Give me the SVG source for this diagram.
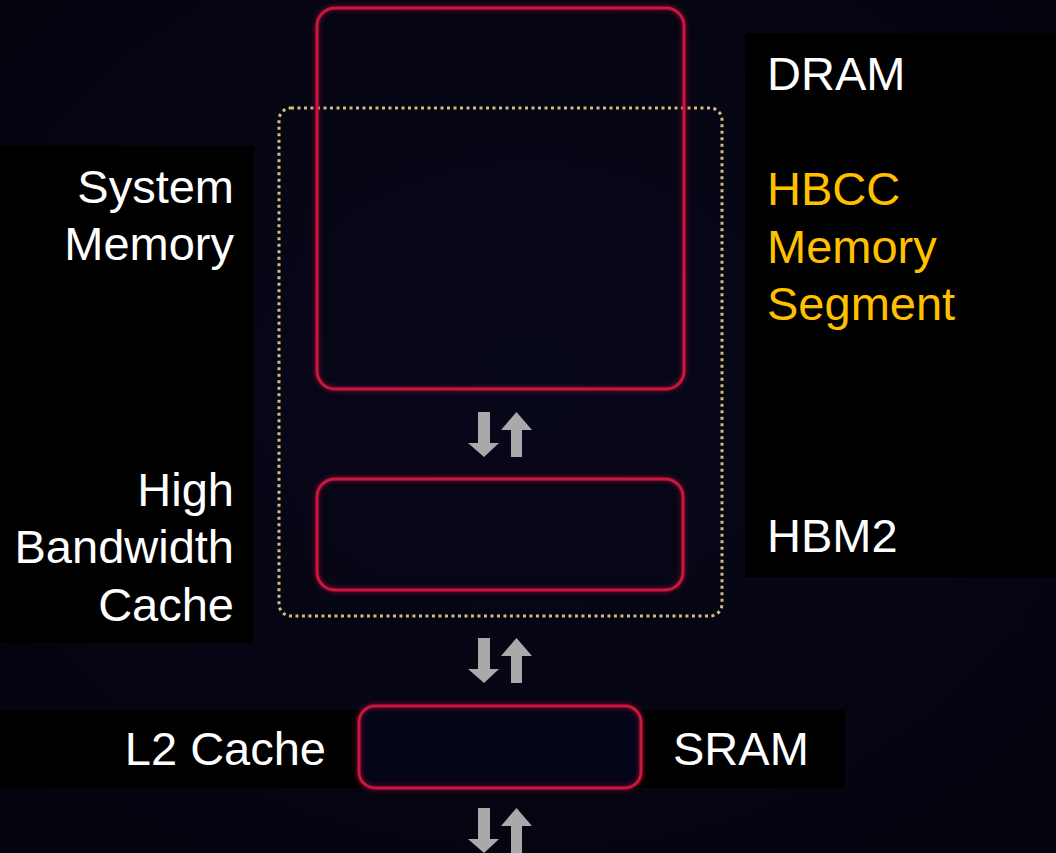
<svg xmlns="http://www.w3.org/2000/svg" width="1056" height="853" viewBox="0 0 1056 853">
<defs>
<radialGradient id="bg" cx="0.5" cy="0.45" r="0.75">
<stop offset="0" stop-color="#07071a"/>
<stop offset="1" stop-color="#04040e"/>
</radialGradient>
<filter id="glow" x="-10%" y="-10%" width="120%" height="120%">
<feGaussianBlur stdDeviation="2"/>
</filter>
<g id="arrowpair">
<polygon points="478,412 490,412 490,443 499,443 484,457 468,443 478,443"/>
<polygon points="516.5,412 532,430 522,430 522,457 511,457 511,430 501,430"/>
</g>
</defs>
<style>
.panel{fill:#000}
.box{fill:none;stroke:#cc1640;stroke-width:3}
.boxglow{fill:none;stroke:#a01030;stroke-width:6;opacity:0.5;filter:url(#glow)}
.dots{fill:none;stroke:#d2bd7a;stroke-width:3;stroke-dasharray:3 3.5;stroke-linecap:butt}
.lbl{font-family:"Liberation Sans",Arial,sans-serif;font-size:47px;fill:#fff}
.orange{fill:#ffc000}
.arrow{fill:#a9a9a9}
</style>
<rect width="1056" height="853" fill="url(#bg)"/>
<!-- label panels -->
<rect class="panel" x="0" y="146" width="254" height="497"/>
<rect class="panel" x="745" y="33" width="311" height="544"/>
<rect class="panel" x="0" y="710" width="845" height="78"/>

<g id="hbcc-segment">
<rect class="dots" x="279" y="108" width="443" height="508" rx="12"/>
</g>
<g id="dram">
<rect class="boxglow" x="317" y="8" width="367" height="381" rx="18"/>
<rect class="box" x="317" y="8" width="367" height="381" rx="18"/>
</g>
<g id="hbm2">
<rect class="boxglow" x="317" y="479" width="366" height="111" rx="18"/>
<rect class="box" x="317" y="479" width="366" height="111" rx="18"/>
</g>
<g id="l2">
<rect x="359" y="706" width="282" height="82" rx="16" fill="#05051a"/>
<rect class="boxglow" x="359" y="706" width="282" height="82" rx="16"/>
<rect class="box" x="359" y="706" width="282" height="82" rx="16"/>
</g>

<g id="connectors" class="arrow">
<use href="#arrowpair"/>
<use href="#arrowpair" y="226"/>
<use href="#arrowpair" y="396"/>
</g>

<g id="labels">
<text class="lbl" x="234" y="203" text-anchor="end">System</text>
<text class="lbl" x="234" y="260" text-anchor="end">Memory</text>
<text class="lbl" x="234" y="506" text-anchor="end">High</text>
<text class="lbl" x="234" y="563" text-anchor="end">Bandwidth</text>
<text class="lbl" x="234" y="621" text-anchor="end">Cache</text>
<text class="lbl" x="767" y="90">DRAM</text>
<text class="lbl orange" x="767" y="205">HBCC</text>
<text class="lbl orange" x="767" y="263">Memory</text>
<text class="lbl orange" x="767" y="320">Segment</text>
<text class="lbl" x="767" y="552">HBM2</text>
<text class="lbl" x="326" y="765" text-anchor="end">L2 Cache</text>
<text class="lbl" x="673" y="765">SRAM</text>
</g>
</svg>
